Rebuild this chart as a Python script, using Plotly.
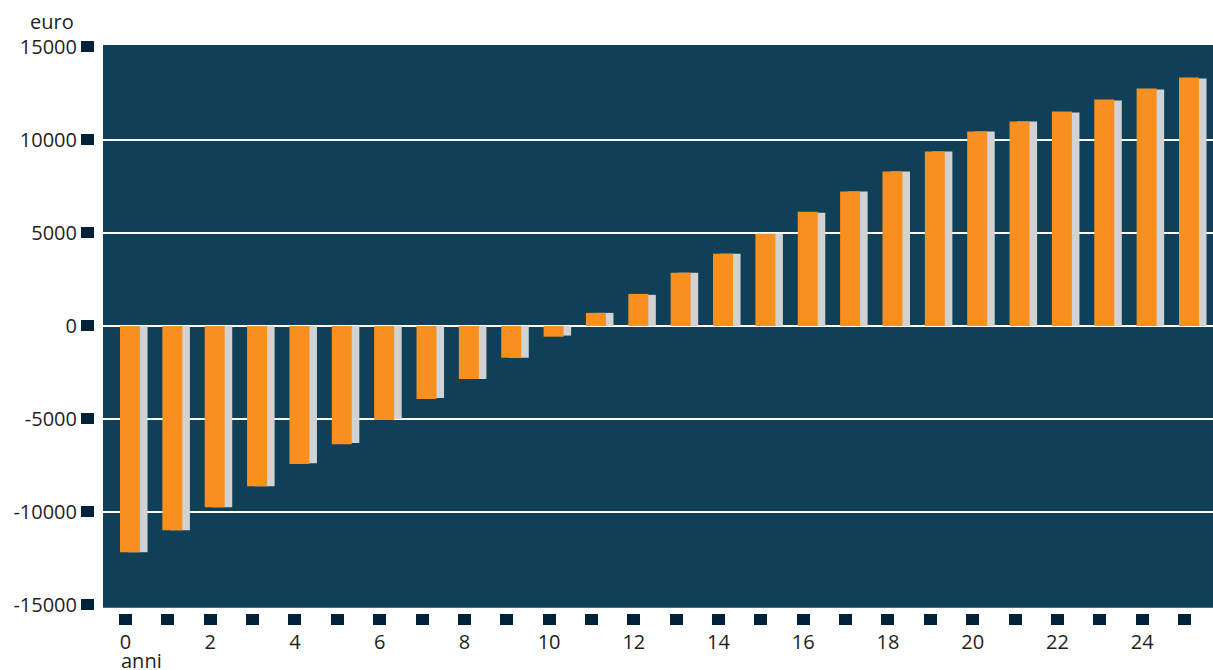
import plotly.graph_objects as go

# Anni dall'investimento iniziale
anni = list(range(26))

# Flusso di cassa cumulato (euro), serie principale e serie di confronto
flusso_principale = [-12170, -10990, -9750, -8620, -7430, -6360, -5060, -3930, -2850, -1710,
                     -580, 700, 1720, 2860, 3880, 4960, 6140, 7220, 8300, 9370,
                     10450, 10990, 11530, 12170, 12770, 13360]
flusso_confronto = [-12170, -10990, -9750, -8620, -7380, -6300, -5010, -3880, -2850, -1710,
                    -520, 700, 1670, 2860, 3880, 4960, 6090, 7220, 8300, 9370,
                    10450, 10990, 11470, 12120, 12710, 13300]

# Etichette degli assi
x_tick_text = [str(a) if a % 2 == 0 else "" for a in anni]
y_tick_vals = [-15000, -10000, -5000, 0, 5000, 10000, 15000]
y_tick_text = ["-15000", "-10000", "-5000", "0", "5000", "10000", "15000"]
y_grid_vals = [-10000, -5000, 0, 5000, 10000]

BG = "#104058"
TICK = "#00213a"
ORANGE = "#f7901e"
GREY = "#d1d2d4"
TEXT = "#231f20"
FONT = "Open Sans"

X_RANGE = [-0.72, 25.673]
Y_RANGE = [-15435, 15102]

fig = go.Figure()

fig.add_trace(go.Bar(
    x=anni, y=flusso_confronto, marker=dict(color=GREY, line=dict(width=0)),
    width=0.472, offset=0.048, showlegend=False, hoverinfo="x+y",
))
fig.add_trace(go.Bar(
    x=anni, y=flusso_principale, marker=dict(color=ORANGE, line=dict(width=0)),
    width=0.472, offset=-0.130, showlegend=False, hoverinfo="x+y",
))

# Invisible trace on the overlay axis carrying the grid
fig.add_trace(go.Scatter(x=[0], y=[0], yaxis="y2", mode="markers",
                         marker=dict(opacity=0), showlegend=False, hoverinfo="skip"))

fig.update_layout(
    width=1213, height=670,
    margin=dict(l=95, r=0, t=45, b=57),
    paper_bgcolor="white", plot_bgcolor="rgba(0,0,0,0)",
    barmode="overlay",
    font=dict(family=FONT, size=20, color=TEXT),
    xaxis=dict(
        range=X_RANGE, tickmode="array", tickvals=anni, ticktext=x_tick_text,
        ticks="outside", ticklen=11, tickwidth=13, tickcolor=TICK,
        showgrid=False, zeroline=False, showline=False,
        tickfont=dict(family=FONT, size=20, color=TEXT),
    ),
    yaxis=dict(
        range=Y_RANGE, tickmode="array", tickvals=y_tick_vals, ticktext=y_tick_text,
        ticks="outside", ticklen=13, tickwidth=11, tickcolor=TICK,
        showgrid=False, zeroline=False, showline=False,
        tickfont=dict(family=FONT, size=20, color=TEXT),
    ),
    yaxis2=dict(
        range=Y_RANGE, overlaying="y", side="left", tickmode="array",
        tickvals=y_grid_vals, showticklabels=False, ticks="",
        showgrid=True, gridcolor="white", gridwidth=2,
        zeroline=False, showline=False,
    ),
    shapes=[dict(
        type="rect", xref="paper", yref="paper",
        x0=8 / 1118, x1=1, y0=5.3 / 568, y1=1,
        fillcolor=BG, line=dict(width=0), layer="below",
    )],
    annotations=[
        dict(text="euro", xref="paper", yref="paper", x=-0.017, y=1.0405,
             xanchor="right", yanchor="middle", showarrow=False,
             font=dict(family=FONT, size=20, color=TEXT)),
        dict(text="anni", xref="paper", yref="paper", x=0.0215, y=-0.0845,
             xanchor="left", yanchor="middle", showarrow=False,
             font=dict(family=FONT, size=20, color=TEXT)),
    ],
)

fig.write_html("out.html")
